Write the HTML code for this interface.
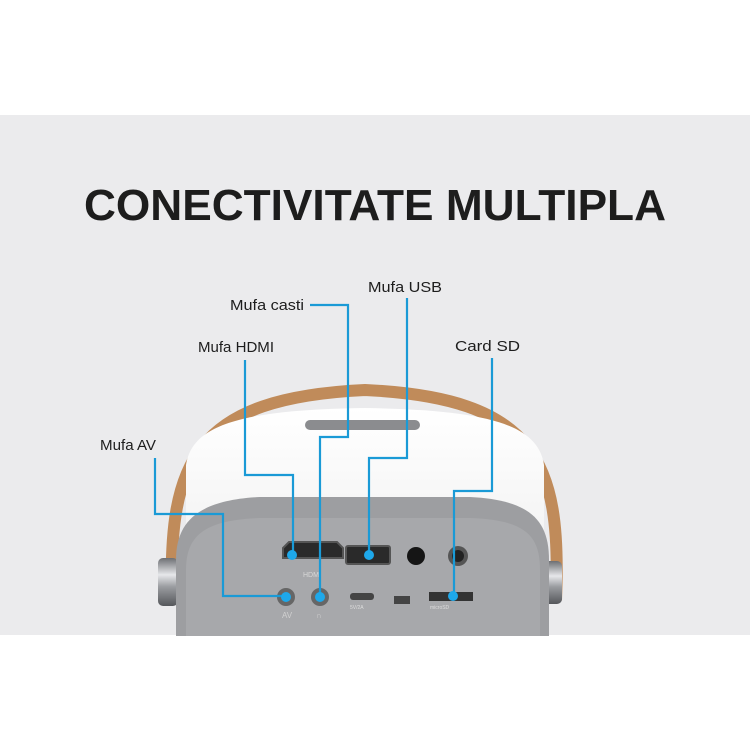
<!DOCTYPE html>
<html><head><meta charset="utf-8"><style>
html,body{margin:0;padding:0;background:#fff;width:750px;height:750px;overflow:hidden}
svg{display:block}
text{font-family:"Liberation Sans",sans-serif}
</style></head><body>
<svg width="750" height="750" viewBox="0 0 750 750" xmlns="http://www.w3.org/2000/svg">
<defs>
<linearGradient id="knob" x1="0" y1="0" x2="0" y2="1">
<stop offset="0" stop-color="#6d6f73"/><stop offset="0.35" stop-color="#e6e7ea"/><stop offset="0.6" stop-color="#9a9ca0"/><stop offset="1" stop-color="#55575b"/></linearGradient>
<linearGradient id="body" x1="0" y1="0" x2="0" y2="1">
<stop offset="0" stop-color="#ffffff"/><stop offset="1" stop-color="#eeeeee"/></linearGradient>
</defs>
<rect x="0" y="0" width="750" height="115" fill="#fff"/>
<rect x="0" y="115" width="750" height="520" fill="#ebebed"/>
<text x="84" y="220" font-size="44" font-weight="bold" fill="#1d1d1d" textLength="582" lengthAdjust="spacingAndGlyphs">CONECTIVITATE MULTIPLA</text>

<!-- handle -->
<path d="M172 600 C168 460 195 398 365 390 C535 398 562 460 556 600" fill="none" stroke="#c08b5a" stroke-width="12"/>
<!-- white body -->
<path d="M186 600 L186 465 C192 425 240 410 365 408 C490 410 538 425 544 465 L544 600 Z" fill="url(#body)"/>
<!-- top buttons -->
<rect x="305" y="420" width="115" height="10" rx="5" fill="#8b8c8f"/>
<!-- knobs -->
<rect x="158" y="558" width="20" height="48" rx="5" fill="url(#knob)"/>
<rect x="544" y="561" width="18" height="43" rx="5" fill="url(#knob)"/>
<!-- front gray panel -->
<path d="M176 636 L176 560 C176 520 200 500 260 497 L470 497 C530 500 549 520 549 560 L549 636 Z" fill="#9d9ea1"/>
<path d="M186 636 L186 570 C186 535 205 520 260 518 L470 518 C525 520 540 535 540 570 L540 636 Z" fill="#a7a8ab"/>
<!-- ports -->
<path d="M283 548 L289 542 L337 542 L343 548 L343 558 L283 558 Z" fill="#2a2a2a" stroke="#555" stroke-width="2"/>
<text x="303" y="577" font-size="7" fill="#d8d8d8">HDMI</text>
<rect x="346" y="546" width="44" height="18" rx="2" fill="#2a2a2a" stroke="#555" stroke-width="2"/>
<circle cx="416" cy="556" r="9" fill="#151515"/>
<circle cx="458" cy="556" r="10" fill="#555"/><circle cx="458" cy="556" r="6" fill="#222"/>
<circle cx="286" cy="597" r="9" fill="#666"/><circle cx="320" cy="597" r="9" fill="#666"/>
<text x="282" y="618" font-size="8" fill="#d0d0d0">AV</text>
<text x="316" y="618" font-size="8" fill="#d0d0d0">∩</text>
<rect x="350" y="593" width="24" height="7" rx="3" fill="#444"/>
<text x="350" y="609" font-size="5" fill="#ddd">5V/2A</text>
<rect x="394" y="596" width="16" height="8" fill="#444"/>
<rect x="429" y="592" width="44" height="9" fill="#333"/>
<text x="430" y="609" font-size="5" fill="#ddd">microSD</text>
<!-- connectors -->
<g fill="none" stroke="#1a9ad6" stroke-width="2.2">
<path d="M155 458 V514 H223 V596 H286"/>
<path d="M245 360 V475 H293 V555"/>
<path d="M310 305 H348 V437 H320 V597"/>
<path d="M407 298 V458 H369 V555"/>
<path d="M492 358 V491 H454 V596"/>
</g>
<g fill="#1ea8ea">
<circle cx="286" cy="597" r="5"/><circle cx="292" cy="555" r="5"/><circle cx="320" cy="597" r="5"/><circle cx="369" cy="555" r="5"/><circle cx="453" cy="596" r="5"/>
</g>
<g font-size="15" fill="#1d1d1d">
<text x="100" y="450" textLength="56" lengthAdjust="spacingAndGlyphs">Mufa AV</text>
<text x="198" y="352" textLength="76" lengthAdjust="spacingAndGlyphs">Mufa HDMI</text>
<text x="230" y="310" textLength="74" lengthAdjust="spacingAndGlyphs">Mufa casti</text>
<text x="368" y="292" textLength="74" lengthAdjust="spacingAndGlyphs">Mufa USB</text>
<text x="455" y="351" textLength="65" lengthAdjust="spacingAndGlyphs">Card SD</text>
</g>
</svg>
</body></html>
